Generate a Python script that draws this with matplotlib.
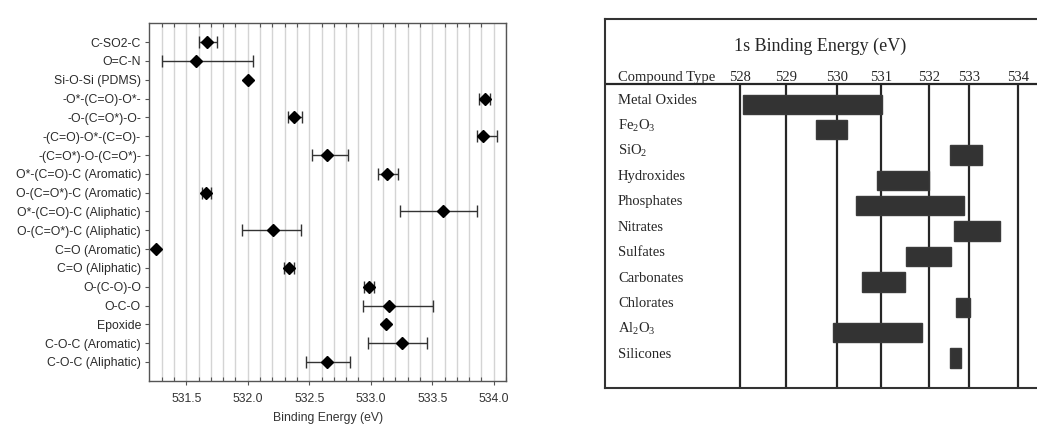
import numpy as np
import matplotlib
matplotlib.use("Agg")
import matplotlib.pyplot as plt
import matplotlib.transforms as mtransforms

plt.rcParams["font.family"] = ["Liberation Sans", "DejaVu Sans"]
plt.rcParams["mathtext.default"] = "regular"

# O 1s binding energies by chemical environment (mean and spread)
groups = ["C-SO2-C", "O=C-N", "Si-O-Si (PDMS)", "-O*-(C=O)-O*-", "-O-(C=O*)-O-",
          "-(C=O)-O*-(C=O)-", "-(C=O*)-O-(C=O*)-", "O*-(C=O)-C (Aromatic)",
          "O-(C=O*)-C (Aromatic)", "O*-(C=O)-C (Aliphatic)", "O-(C=O*)-C (Aliphatic)",
          "C=O (Aromatic)", "C=O (Aliphatic)", "O-(C-O)-O", "O-C-O", "Epoxide",
          "C-O-C (Aromatic)", "C-O-C (Aliphatic)"]
be_mean = [531.67, 531.58, 532.00, 533.93, 532.375, 533.91, 532.643, 533.136,
           531.657, 533.589, 532.209, 531.253, 532.337, 532.989, 533.152, 533.128,
           533.252, 532.641]
be_low = [531.606, 531.304, np.nan, 533.877, 532.33, 533.861, 532.524, 533.057,
          531.625, 533.238, 531.954, np.nan, 532.296, 532.948, 532.937, np.nan,
          532.975, 532.476]
be_high = [531.747, 532.04, np.nan, 533.972, 532.445, 534.027, 532.812, 533.22,
           531.698, 533.863, 532.437, np.nan, 532.375, 533.027, 533.51, np.nan,
           533.456, 532.831]

# reference table of O 1s ranges by compound type
compounds = ["Metal Oxides", "Fe$_2$O$_3$", "SiO$_2$", "Hydroxides", "Phosphates",
             "Nitrates", "Sulfates", "Carbonates", "Chlorates", "Al$_2$O$_3$", "Silicones"]
range_start = [528.07, 529.60, 532.53, 530.92, 530.45, 532.62, 531.52, 530.57,
               532.66, 529.93, 532.52]
range_end = [531.03, 530.23, 533.25, 531.99, 532.87, 533.63, 532.54, 531.49,
             533.01, 531.86, 532.79]
table_ticks = [528, 529, 530, 531, 532, 533, 534]
# the printed scale of the table is not evenly spaced
table_tick_pos = [0.0, 45.7, 96.7, 140.7, 189.3, 229.3, 278.3]

fig = plt.figure(figsize=(10.37, 4.25), dpi=100)

# ---- left: measured binding energies
ax = fig.add_axes([0.144, 0.104, 0.344, 0.841])
y = np.arange(len(groups))[::-1]
mean = np.array(be_mean)
low = np.array(be_low)
high = np.array(be_high)
has_err = ~np.isnan(low)

ax.errorbar(mean[has_err], y[has_err],
            xerr=[mean[has_err] - low[has_err], high[has_err] - mean[has_err]],
            fmt="none", ecolor="#333333", elinewidth=1.0, capsize=4.5, capthick=1.0, zorder=3)
ax.plot(mean, y, "D", color="black", markersize=6, zorder=4)

ax.set_xlim(531.2, 534.1)
ax.set_ylim(-1, len(groups))
ax.set_yticks(y)
ax.set_yticklabels(groups)
ax.set_xticks(np.arange(531.5, 534.01, 0.5))
ax.set_xticklabels([f"{v:.1f}" for v in np.arange(531.5, 534.01, 0.5)])
ax.set_xticks(np.arange(531.3, 534.1, 0.1), minor=True)
ax.grid(True, which="both", axis="x", color="#d4d4d4", linewidth=1.0, zorder=0)
ax.set_axisbelow(True)
ax.tick_params(axis="y", length=3, width=0.8, color="#555555", labelsize=8.8,
               labelcolor="#2a2a2a", pad=3)
ax.tick_params(axis="x", which="major", length=3, width=0.8, color="#555555",
               labelsize=8.8, labelcolor="#333333", pad=6)
ax.tick_params(axis="x", which="minor", direction="in", top=True, length=3,
               width=0.8, color="#555555")
for s in ax.spines.values():
    s.set_color("#555555")
    s.set_linewidth(1.0)
ax.set_xlabel("Binding Energy (eV)", fontsize=8.8, color="#333333", labelpad=5)


# ---- right: table of literature ranges
def to_pos(x):
    x = np.asarray(x, dtype=float)
    p = np.interp(x, table_ticks, table_tick_pos)
    s0 = (table_tick_pos[1] - table_tick_pos[0]) / (table_ticks[1] - table_ticks[0])
    s1 = (table_tick_pos[-1] - table_tick_pos[-2]) / (table_ticks[-1] - table_ticks[-2])
    p = np.where(x < table_ticks[0], table_tick_pos[0] + (x - table_ticks[0]) * s0, p)
    p = np.where(x > table_ticks[-1], table_tick_pos[-1] + (x - table_ticks[-1]) * s1, p)
    return p


def from_pos(p):
    p = np.asarray(p, dtype=float)
    x = np.interp(p, table_tick_pos, table_ticks)
    s0 = (table_tick_pos[1] - table_tick_pos[0]) / (table_ticks[1] - table_ticks[0])
    s1 = (table_tick_pos[-1] - table_tick_pos[-2]) / (table_ticks[-1] - table_ticks[-2])
    x = np.where(p < table_tick_pos[0], table_ticks[0] + (p - table_tick_pos[0]) / s0, x)
    x = np.where(p > table_tick_pos[-1], table_ticks[-1] + (p - table_tick_pos[-1]) / s1, x)
    return x


serif = ["Liberation Serif", "DejaVu Serif"]
ink = "#262626"
tx = fig.add_axes([0.5834, 0.087, 0.4166, 0.868])
tx.set_xscale("function", functions=(to_pos, from_pos))
tx.set_xlim(from_pos(-135.0), from_pos(297.0))
rows = np.arange(len(compounds))
tx.set_ylim(11.18, -3.35)
header_y = -0.79

tx.barh(rows, np.array(range_end) - np.array(range_start), left=range_start,
        height=0.76, color="#333333", edgecolor="#3a3a3a", zorder=3)
tx.vlines(table_ticks, header_y, 11.18, color=ink, linewidth=1.6, zorder=2)
tx.axhline(header_y, color=ink, linewidth=1.6)

lbl = mtransforms.blended_transform_factory(tx.transAxes, tx.transData)
for r, name in zip(rows, compounds):
    tx.text(0.030, r - 0.15, name, transform=lbl, family=serif, fontsize=10.5,
            color=ink, va="center", ha="left")
tx.text(0.030, -1.05, "Compound Type", transform=lbl, family=serif, fontsize=10.5,
        color=ink, va="center", ha="left")
for t in table_ticks:
    tx.text(t, -1.05, str(t), family=serif, fontsize=10.5, color=ink,
            va="center", ha="center")
tx.text(0.498, -2.26, "1s Binding Energy (eV)", transform=lbl, family=serif,
        fontsize=13, color=ink, va="center", ha="center")

tx.set_xticks([])
tx.set_yticks([])
tx.spines["right"].set_visible(False)
for k in ["left", "top", "bottom"]:
    tx.spines[k].set_color("#333333")
    tx.spines[k].set_linewidth(1.5)

fig.savefig("out.png", dpi=100)
